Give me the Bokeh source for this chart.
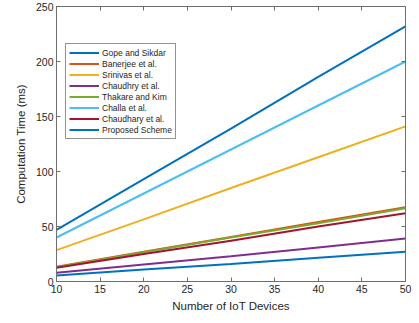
from bokeh.plotting import figure
from bokeh.models import Legend, LegendItem, LinearAxis, FixedTicker, Range1d
from bokeh.embed import file_html
from bokeh.resources import INLINE

devices = [10, 20, 30, 40, 50]
gope = [47, 93, 139, 186, 232]
banerjee = [13.5, 27, 40.5, 54, 67.5]
srinivas = [28.5, 56.5, 85, 113, 141]
chaudhry = [8, 15.5, 23, 31, 39]
thakare = [13, 26.5, 40, 53, 66.5]
challa = [40, 80, 120, 160, 200]
chaudhary = [12.5, 25, 37, 50, 62]
proposed = [5.5, 11, 16, 21.5, 27]

names = ["Gope and Sikdar", "Banerjee et al.", "Srinivas et al.", "Chaudhry et al.",
         "Thakare and Kim", "Challa et al.", "Chaudhary et al.", "Proposed Scheme"]
series = [gope, banerjee, srinivas, chaudhry, thakare, challa, chaudhary, proposed]
colors = ["#0072BD", "#D95319", "#EDB120", "#7E2F8E", "#77AC30", "#4DBEEE", "#A2142F", "#0072BD"]

x_ticks = [10, 15, 20, 25, 30, 35, 40, 45, 50]
y_ticks = [0, 50, 100, 150, 200, 250]

FONT = "Liberation Sans"
AX = "#262626"
BOX = "#6e6e6e"

p = figure(width=419, height=323, output_backend="svg", toolbar_location=None,
           x_range=Range1d(10, 50), y_range=Range1d(0, 250),
           min_border_left=56, min_border_right=14, min_border_top=6, min_border_bottom=42)
p.grid.visible = False
p.outline_line_color = BOX
p.outline_line_width = 1

for ax in [p.xaxis[0], p.yaxis[0]]:
    ax.major_tick_in = 4
    ax.major_tick_out = 0
    ax.minor_tick_line_color = None
    ax.axis_line_color = BOX
    ax.major_tick_line_color = BOX
    ax.major_label_text_font = FONT
    ax.major_label_text_font_size = "10.5px"
    ax.major_label_text_color = AX
    ax.axis_label_text_font = FONT
    ax.axis_label_text_font_size = "11.5px"
    ax.axis_label_text_font_style = "normal"
    ax.axis_label_text_color = AX

p.xaxis[0].ticker = FixedTicker(ticks=x_ticks)
p.yaxis[0].ticker = FixedTicker(ticks=y_ticks)
p.xaxis[0].axis_label = "Number of IoT Devices"
p.yaxis[0].axis_label = "Computation Time (ms)"
p.xaxis[0].major_label_standoff = 3
p.yaxis[0].major_label_standoff = 3
p.xaxis[0].axis_label_standoff = 4
p.yaxis[0].axis_label_standoff = 6

for loc, tk in [("right", y_ticks), ("above", x_ticks)]:
    a = LinearAxis(ticker=FixedTicker(ticks=tk), major_label_text_font_size="0px",
                   major_tick_in=4, major_tick_out=0, minor_tick_line_color=None,
                   axis_line_color=BOX, major_tick_line_color=BOX)
    a.major_label_text_alpha = 0
    p.add_layout(a, loc)

items = []
for name, ys, c in zip(names, series, colors):
    r = p.line(devices, ys, line_color=c, line_width=2)
    items.append(LegendItem(label=name, renderers=[r]))

legend = Legend(items=items, location=(9, 142), border_line_color="#262626",
                border_line_width=1, background_fill_color="white", background_fill_alpha=1,
                label_text_font=FONT, label_text_font_size="8.5px", label_text_color=AX,
                glyph_width=30, glyph_height=11, label_height=11, spacing=0,
                padding=3, margin=0, label_standoff=3)
p.add_layout(legend, "center")

open("out.html", "w").write(file_html(p, INLINE))
